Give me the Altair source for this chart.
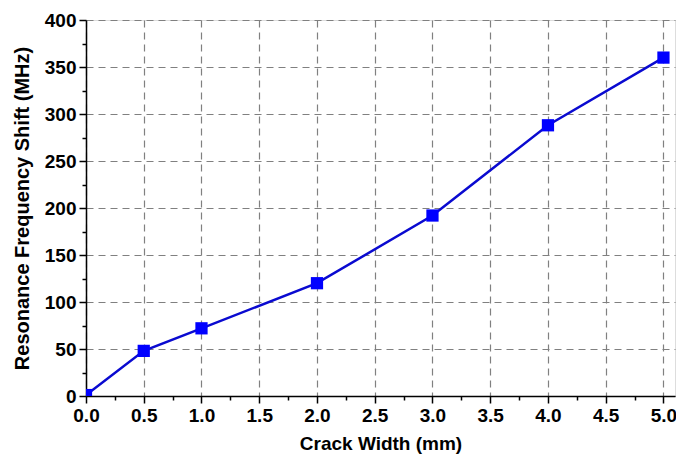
import altair as alt
import pandas as pd

crack_width = [0.0, 0.5, 1.0, 2.0, 3.0, 4.0, 5.0]
freq_shift = [1, 48, 72, 120, 192, 288, 360]

x_ticks = [round(v * 0.25, 2) for v in range(0, 21)]
y_ticks = list(range(0, 401, 25))

df = pd.DataFrame({"w": crack_width, "s": freq_shift})

FONT = "Liberation Sans"

common = dict(
    labelFont=FONT, labelFontSize=19, labelFontWeight="bold", labelColor="black",
    titleFont=FONT, titleFontWeight="bold", titleColor="black",
    domainColor="black", domainWidth=1.5, tickColor="black", tickWidth=1.5,
    gridColor="#808080", gridDash=[7, 5], gridWidth=1.2,
    labelFlush=False, labelOverlap=False,
)

x_axis = alt.Axis(
    title="Crack Width (mm)",
    values=x_ticks,
    labelExpr="(datum.value*2) % 1 === 0 ? format(datum.value, '.1f') : ''",
    tickSize={"condition": {"test": "(datum.value*2) % 1 !== 0", "value": 4}, "value": 7},
    gridOpacity={"condition": {"test": "(datum.value*2) % 1 !== 0", "value": 0}, "value": 1},
    labelPadding=3, titlePadding=9, titleFontSize=19,
    **common,
)
y_axis = alt.Axis(
    title="Resonance Frequency Shift (MHz)",
    values=y_ticks,
    labelExpr="datum.value % 50 === 0 ? format(datum.value, 'd') : ''",
    tickSize={"condition": {"test": "datum.value % 50 !== 0", "value": 4}, "value": 7},
    gridOpacity={"condition": {"test": "datum.value % 50 !== 0", "value": 0}, "value": 1},
    labelPadding=3, titlePadding=12, titleFontSize=20,
    **common,
)

base = alt.Chart(df).encode(
    x=alt.X("w:Q", scale=alt.Scale(domain=[0, 5.1], nice=False), axis=x_axis),
    y=alt.Y("s:Q", scale=alt.Scale(domain=[0, 400], nice=False), axis=y_axis),
)

line = base.mark_line(color="#0a0ad0", strokeWidth=2.5, clip=True)
pts = base.mark_square(color="#0000ff", size=150, opacity=1, clip=True)

chart = (line + pts).properties(
    width=589, height=376,
    autosize=alt.AutoSizeParams(type="none"),
    padding={"left": 78, "top": 12, "right": 1, "bottom": 58},
).configure_view(stroke=None).configure(background="white")

chart.save("out.html", embed_options={"renderer": "svg", "actions": False})
